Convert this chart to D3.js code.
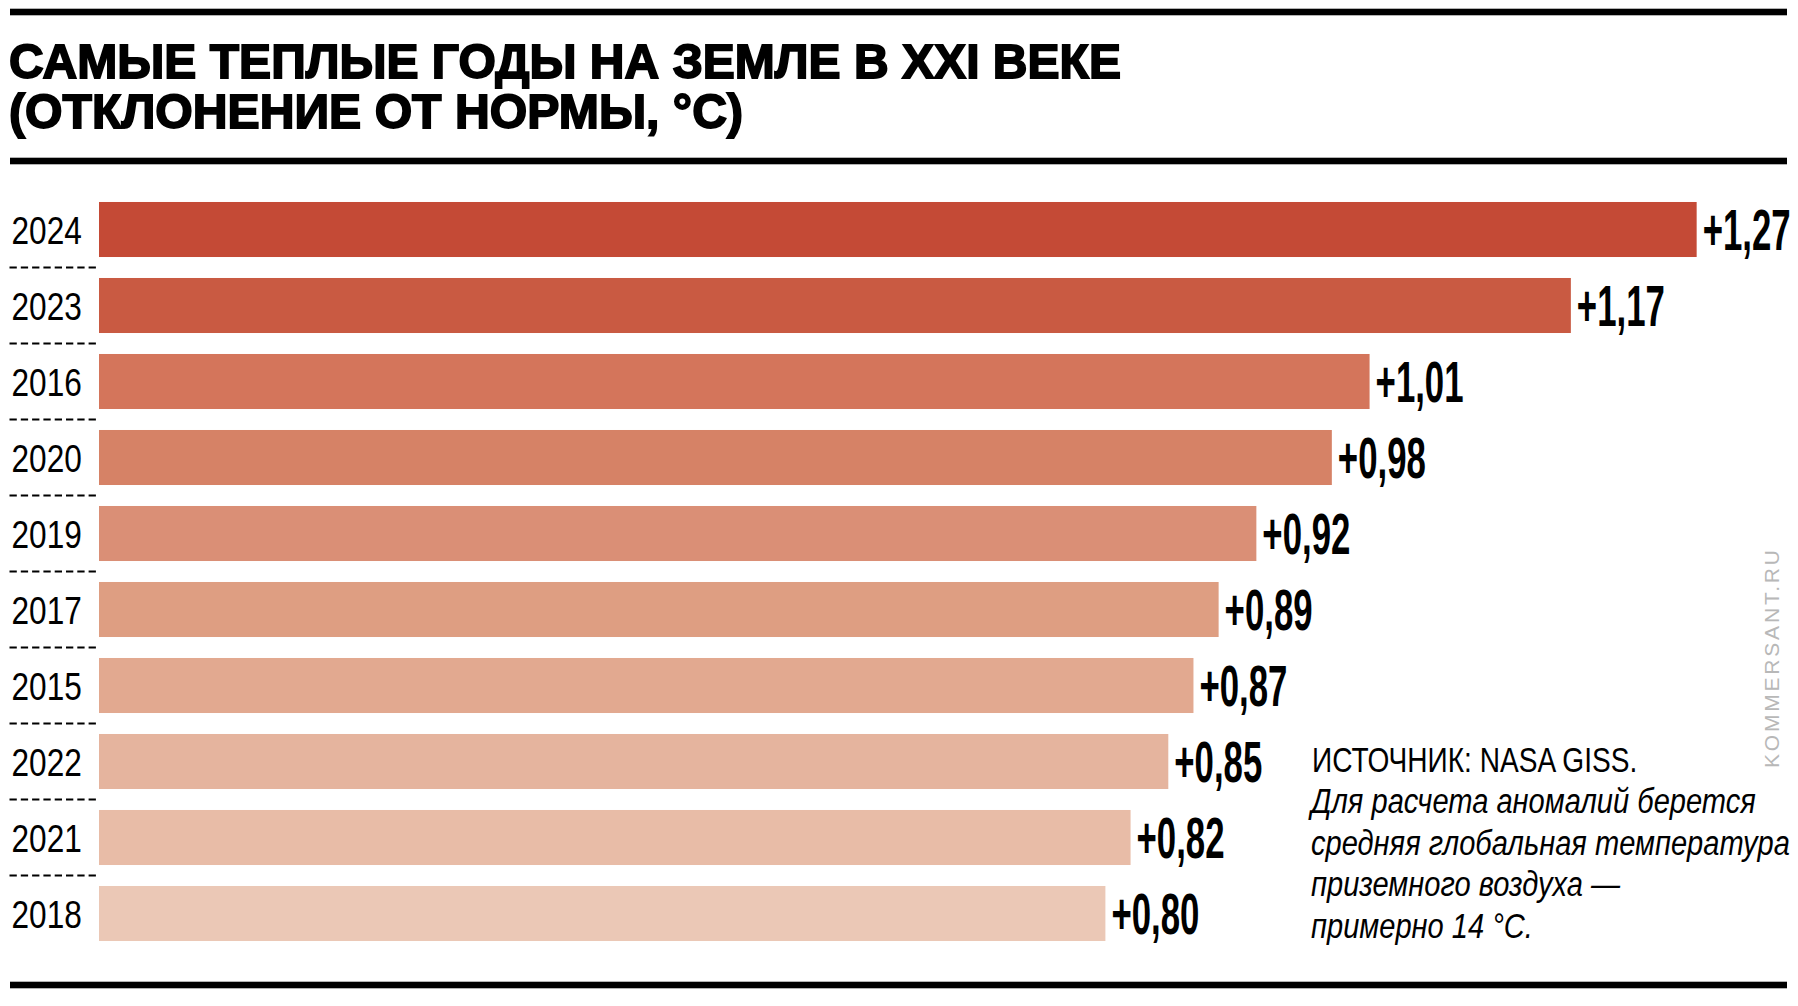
<!DOCTYPE html>
<html>
<head>
<meta charset="utf-8">
<script src="https://cdn.jsdelivr.net/npm/d3@7"></script>
<style>
  body { margin: 0; background: #fff; }
  text { font-family: "Liberation Sans", Arial, sans-serif; }
</style>
</head>
<body>
<div class="box"></div>
<script>
// данные
const years = ['2024', '2023', '2016', '2020', '2019', '2017', '2015', '2022', '2021', '2018'];
const anomalies = [1.27, 1.17, 1.01, 0.98, 0.92, 0.89, 0.87, 0.85, 0.82, 0.80];
const barColors = ['#c44a36', '#c95a42', '#d4755b', '#d68266', '#da8f76',
                   '#de9e82', '#e2a990', '#e5b49e', '#e8bca7', '#ebc8b6'];
const titleLines = ['САМЫЕ ТЕПЛЫЕ ГОДЫ НА ЗЕМЛЕ В XXI ВЕКЕ', '(ОТКЛОНЕНИЕ ОТ НОРМЫ, °С)'];
const sourceLine = 'ИСТОЧНИК: NASA GISS.';
const noteLines = ['Для расчета аномалий берется', 'средняя глобальная температура',
                   'приземного воздуха —', 'примерно 14 °С.'];

const rows = years.map((y, i) => ({year: y, value: anomalies[i], color: barColors[i]}));

const width = 1798, height = 1006;
const svg = d3.select('.box')
              .append('svg')
              .attr('width', width)
              .attr('height', height)
              .style('background', '#fff');

// линейки
const rule = y => svg.append('rect')
                     .attr('x', 10).attr('y', y - 3.3)
                     .attr('width', 1777).attr('height', 6.6)
                     .attr('fill', '#000');
rule(12);
rule(161);
rule(985);

// заголовок
svg.selectAll('.title')
   .data(titleLines)
   .enter()
   .append('text')
   .attr('class', 'title')
   .attr('x', 9)
   .attr('y', (d, i) => 78 + i * 50)
   .attr('textLength', (d, i) => i === 0 ? 1112 : 734)
   .attr('lengthAdjust', 'spacingAndGlyphs')
   .attr('font-size', 49)
   .attr('font-weight', 'bold')
   .attr('fill', '#000')
   .attr('stroke', '#000')
   .attr('stroke-width', 1.8)
   .text(d => d);

// шкалы
const x = d3.scaleLinear()
            .domain([0, 1.3])
            .range([99, 99 + 1258 * 1.3]);

const y = d3.scaleBand()
            .domain(years)
            .range([191.5, 951.5])
            .paddingInner(0.276)
            .paddingOuter(0.138);

const bw = y.bandwidth();
const gap = y.step() - bw;

svg.selectAll('.bar')
   .data(rows)
   .enter()
   .append('rect')
   .attr('class', 'bar')
   .attr('x', x(0))
   .attr('y', d => y(d.year))
   .attr('width', d => x(d.value) - x(0))
   .attr('height', bw)
   .attr('fill', d => d.color);

// пунктир между строками
svg.selectAll('.sep')
   .data(rows.slice(0, -1))
   .enter()
   .append('line')
   .attr('class', 'sep')
   .attr('x1', 9.5)
   .attr('x2', x(0))
   .attr('y1', d => y(d.year) + bw + gap / 2)
   .attr('y2', d => y(d.year) + bw + gap / 2)
   .attr('stroke', '#000')
   .attr('stroke-width', 2)
   .attr('stroke-dasharray', '7.3,4');

// подписи годов
svg.selectAll('.year')
   .data(rows)
   .enter()
   .append('text')
   .attr('class', 'year')
   .attr('transform', d => `translate(11.5, ${y(d.year) + bw / 2 + 14}) scale(0.8, 1)`)
   .attr('font-size', 39.5)
   .attr('fill', '#000')
   .text(d => d.year);

// значения
const fmt = v => '+' + d3.format('.2f')(v).replace('.', ',');
svg.selectAll('.val')
   .data(rows)
   .enter()
   .append('text')
   .attr('class', 'val')
   .attr('transform', d => `translate(${x(d.value) + 6}, ${y(d.year) + bw / 2 + 20.5}) scale(0.61, 1)`)
   .attr('font-size', 57)
   .attr('font-weight', 'bold')
   .attr('fill', '#000')
   .text(d => fmt(d.value));

// источник
svg.append('text')
   .attr('transform', 'translate(1312, 772) scale(0.78, 1)')
   .attr('font-size', 36)
   .attr('fill', '#000')
   .text(sourceLine);

svg.selectAll('.note')
   .data(noteLines)
   .enter()
   .append('text')
   .attr('class', 'note')
   .attr('transform', (d, i) => `translate(1311, ${813 + i * 41.7}) scale(0.843, 1)`)
   .attr('font-size', 34.5)
   .attr('font-style', 'italic')
   .attr('fill', '#000')
   .text(d => d);

// подпись сайта
svg.append('text')
   .attr('transform', 'translate(1779, 768) rotate(-90)')
   .attr('font-size', 21)
   .attr('letter-spacing', 2.8)
   .attr('fill', '#b8b8b8')
   .text('KOMMERSANT.RU');
</script>
</body>
</html>
